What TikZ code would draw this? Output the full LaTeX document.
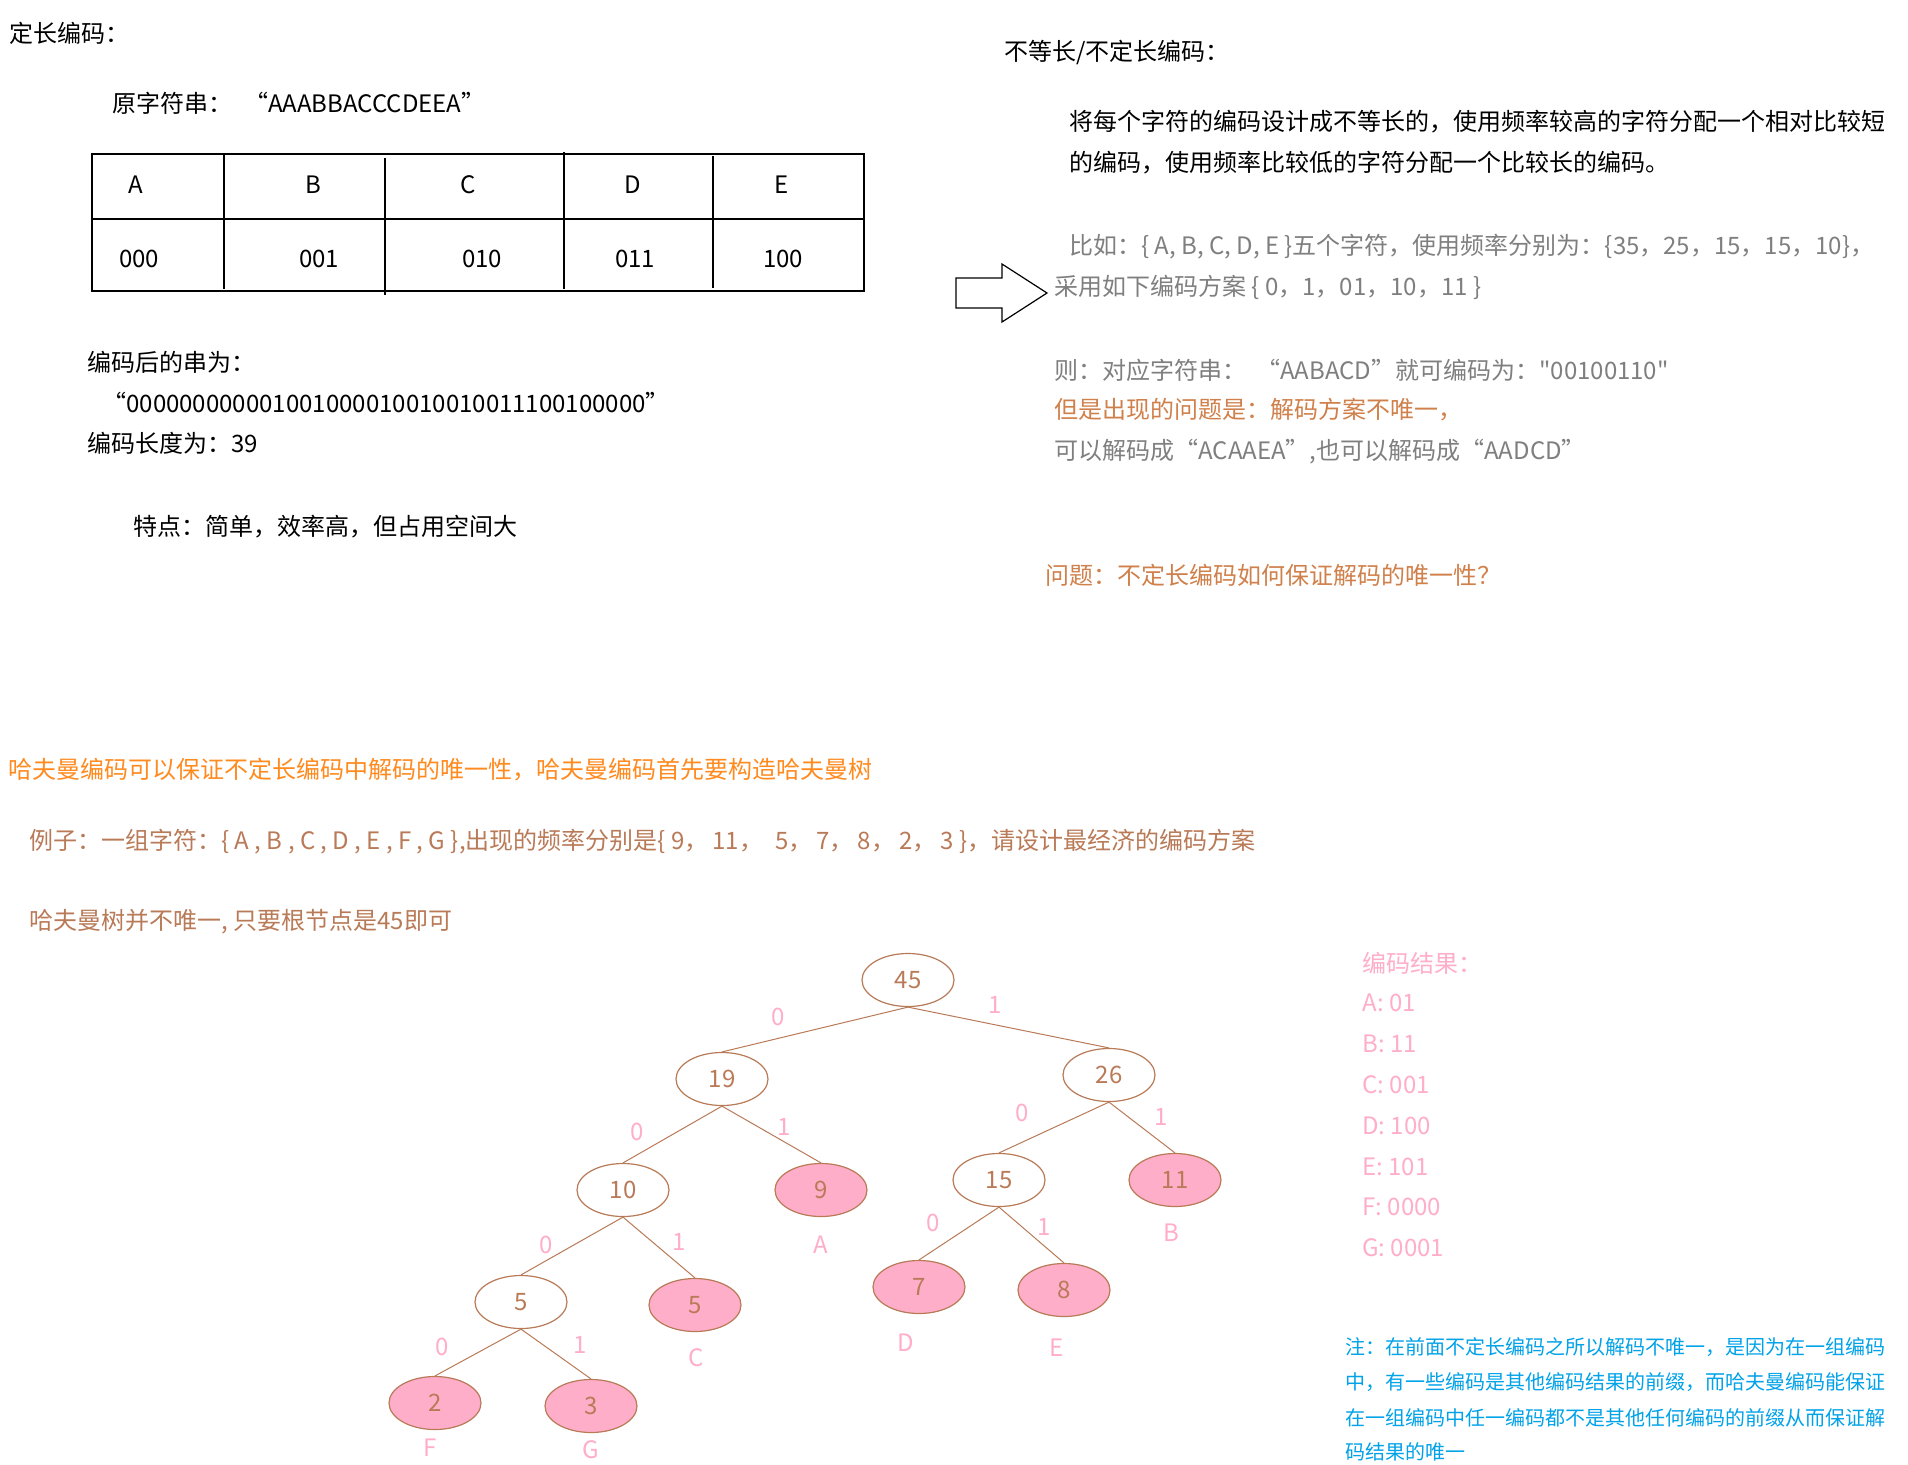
\documentclass[tikz,border=0pt]{standalone}
\usepackage{fontspec}
\setmainfont{Noto Sans CJK SC}
\newfontfamily\rawfont{Noto Sans CJK SC}
\usetikzlibrary{shapes.geometric}
\definecolor{gtxt}{HTML}{7F7F7F}
\definecolor{otxt}{HTML}{D0804A}
\definecolor{btxt}{HTML}{FF8A1E}
\definecolor{brn}{HTML}{B97A57}
\definecolor{pnk}{HTML}{FFAEC9}
\definecolor{blu}{HTML}{00A2E8}
\begin{document}
\begin{tikzpicture}[x=0.5pt,y=-0.5pt,
  txt/.style={anchor=west,inner sep=0pt,font=\fontsize{12}{14}\selectfont},
  ctxt/.style={anchor=center,inner sep=0pt,font=\fontsize{12}{14}\selectfont},
  gray/.style={txt,text=gtxt},
  prob/.style={txt,text=otxt},
  brtxt/.style={txt,text=brn},
  pinktxt/.style={txt,text=pnk},
  pinklab/.style={ctxt,text=pnk},
  notetxt/.style={anchor=west,inner sep=0pt,text=blu,font=\fontsize{10}{12}\selectfont},
  tline/.style={draw=black,line width=0.6pt},
  tnode/.style={ellipse,draw=brn,line width=0.6pt,minimum width=46pt,minimum height=26.5pt,inner sep=0pt,text=brn,font=\fontsize{12}{14}\selectfont},
  leaf/.style={tnode,fill=pnk},
  tedge/.style={draw=brn,line width=0.5pt}]
\useasboundingbox[fill=white] (0,0) rectangle (1908,1464);

% ---- left top: fixed-length coding ----
\node[txt] (t1) at (9,33) {定长编码：};
\node[txt] (t2) at (112,103) {原字符串：\hspace{6pt}“AAABBACCCDEEA”};

% table
\coordinate (tbA) at (92,154);
\coordinate (tbB) at (864,291);
\draw[tline] (tbA) rectangle (tbB);
\draw[tline] (92,219) -- (864,219);
\draw[tline] (224,154) -- (224,289);
\draw[tline] (385,158) -- (385,295);
\draw[tline] (564,152) -- (564,289);
\draw[tline] (713,156) -- (713,288);
\node[ctxt] (hA) at (136,185) {A};
\node[ctxt] (hB) at (313,185) {B};
\node[ctxt] (hC) at (468,185) {C};
\node[ctxt] (hD) at (633,185) {D};
\node[ctxt] (hE) at (782,185) {E};
\node[ctxt] (vA) at (139,259) {000};
\node[ctxt] (vB) at (319,259) {001};
\node[ctxt] (vC) at (482,259) {010};
\node[ctxt] (vD) at (635,259) {011};
\node[ctxt] (vE) at (783,259) {100};

\node[txt] (t3) at (87,362) {编码后的串为：};
\node[txt] (t4) at (102,402) {“000000000001001000010010010011100100000”};
\node[txt] (t5) at (87,443) {编码长度为：39};
\node[txt] (t6) at (133,527) {特点：简单，效率高，但占用空间大};

% ---- right top: variable-length coding ----
\node[txt] (r1) at (1004,52) {不等长/不定长编码：};
\node[txt] (r2) at (1069,122) {将每个字符的编码设计成不等长的，使用频率较高的字符分配一个相对比较短};
\node[txt] (r3) at (1069,163) {的编码，使用频率比较低的字符分配一个比较长的编码。};
\node[gray] (r4) at (1069,247) {比如：{\{} A, B, C, D, E {\}}五个字符，使用频率分别为：{\{}35，25，15，15，10{\}}，};
\node[gray] (r5) at (1054,287) {采用如下编码方案 {\{} 0，1，01，10，11 {\}}};
\node[gray] (r6) at (1054,370) {则：对应字符串：\hspace{5pt}“AABACD”就可编码为：{\rawfont "00100110"}};
\node[prob] (r7) at (1054,410) {但是出现的问题是：解码方案不唯一，};
\node[gray] (r8) at (1054,452) {可以解码成“ACAAEA”,也可以解码成“AADCD”};
\node[prob] (r9) at (1045,575) {问题：不定长编码如何保证解码的唯一性？};

% block arrow
\draw[line width=0.6pt] (956,278) -- (1002,278) -- (1002,264) -- (1047,293)
  -- (1002,322) -- (1002,308) -- (956,308) -- cycle;

% ---- Huffman section ----
\node[txt,text=btxt] (h1) at (8,770) {哈夫曼编码可以保证不定长编码中解码的唯一性，哈夫曼编码首先要构造哈夫曼树};
\node[brtxt] (h2) at (29,842) {例子：一组字符：{\{} A , B , C , D , E , F , G {\}},出现的频率分别是{\{} 9，\hspace{2pt}11，\hspace{6pt}5，\hspace{2pt}7，\hspace{2pt}8，\hspace{2pt}2，\hspace{2pt}3 {\}}，请设计最经济的编码方案};
\node[brtxt] (h3) at (29,922) {哈夫曼树并不唯一, 只要根节点是45即可};

% tree nodes
\node[tnode] (n45) at (908,980) {45};
\node[tnode] (n19) at (722,1079) {19};
\node[tnode] (n26) at (1109,1075) {26};
\node[tnode] (n10) at (623,1190) {10};
\node[leaf]  (n9)  at (821,1190) {9};
\node[tnode] (n15) at (999,1180) {15};
\node[leaf]  (n11) at (1175,1180) {11};
\node[tnode] (n5a) at (521,1302) {5};
\node[leaf]  (n5b) at (695,1305) {5};
\node[leaf]  (n7)  at (919,1287) {7};
\node[leaf]  (n8)  at (1064,1290) {8};
\node[leaf]  (n2)  at (435,1403) {2};
\node[leaf]  (n3)  at (591,1406) {3};

% tree edges
\draw[tedge] (n45.south) -- (n19.north);
\draw[tedge] (n45.south) -- (n26.north);
\draw[tedge] (n19.south) -- (n10.north);
\draw[tedge] (n19.south) -- (n9.north);
\draw[tedge] (n26.south) -- (n15.north);
\draw[tedge] (n26.south) -- (n11.north);
\draw[tedge] (n10.south) -- (n5a.north);
\draw[tedge] (n10.south) -- (n5b.north);
\draw[tedge] (n15.south) -- (n7.north);
\draw[tedge] (n15.south) -- (n8.north);
\draw[tedge] (n5a.south) -- (n2.north);
\draw[tedge] (n5a.south) -- (n3.north);

% edge labels
\node[pinklab] (e1) at (778,1017) {0};
\node[pinklab] (e2) at (995,1005) {1};
\node[pinklab] (e3) at (637,1132) {0};
\node[pinklab] (e4) at (784,1127) {1};
\node[pinklab] (e5) at (1022,1113) {0};
\node[pinklab] (e6) at (1161,1117) {1};
\node[pinklab] (e7) at (546,1245) {0};
\node[pinklab] (e8) at (679,1242) {1};
\node[pinklab] (e9) at (933,1223) {0};
\node[pinklab] (e10) at (1044,1227) {1};
\node[pinklab] (e11) at (442,1347) {0};
\node[pinklab] (e12) at (580,1345) {1};

% leaf letters
\node[pinklab] (lA) at (821,1245) {A};
\node[pinklab] (lB) at (1171,1233) {B};
\node[pinklab] (lC) at (696,1358) {C};
\node[pinklab] (lD) at (906,1343) {D};
\node[pinklab] (lE) at (1057,1348) {E};
\node[pinklab] (lF) at (430,1448) {F};
\node[pinklab] (lG) at (591,1450) {G};

% coding result
\node[pinktxt] (c0) at (1362,963) {编码结果：};
\node[pinktxt] (c1) at (1362,1003) {A: 01};
\node[pinktxt] (c2) at (1362,1044) {B: 11};
\node[pinktxt] (c3) at (1362,1085) {C: 001};
\node[pinktxt] (c4) at (1362,1126) {D: 100};
\node[pinktxt] (c5) at (1362,1167) {E: 101};
\node[pinktxt] (c6) at (1362,1207) {F: 0000};
\node[pinktxt] (c7) at (1362,1248) {G: 0001};

% note
\node[notetxt] (m1) at (1345,1347) {注：在前面不定长编码之所以解码不唯一，是因为在一组编码};
\node[notetxt] (m2) at (1345,1382) {中，有一些编码是其他编码结果的前缀，而哈夫曼编码能保证};
\node[notetxt] (m3) at (1345,1418) {在一组编码中任一编码都不是其他任何编码的前缀从而保证解};
\node[notetxt] (m4) at (1345,1452) {码结果的唯一};
\end{tikzpicture}
\end{document}
